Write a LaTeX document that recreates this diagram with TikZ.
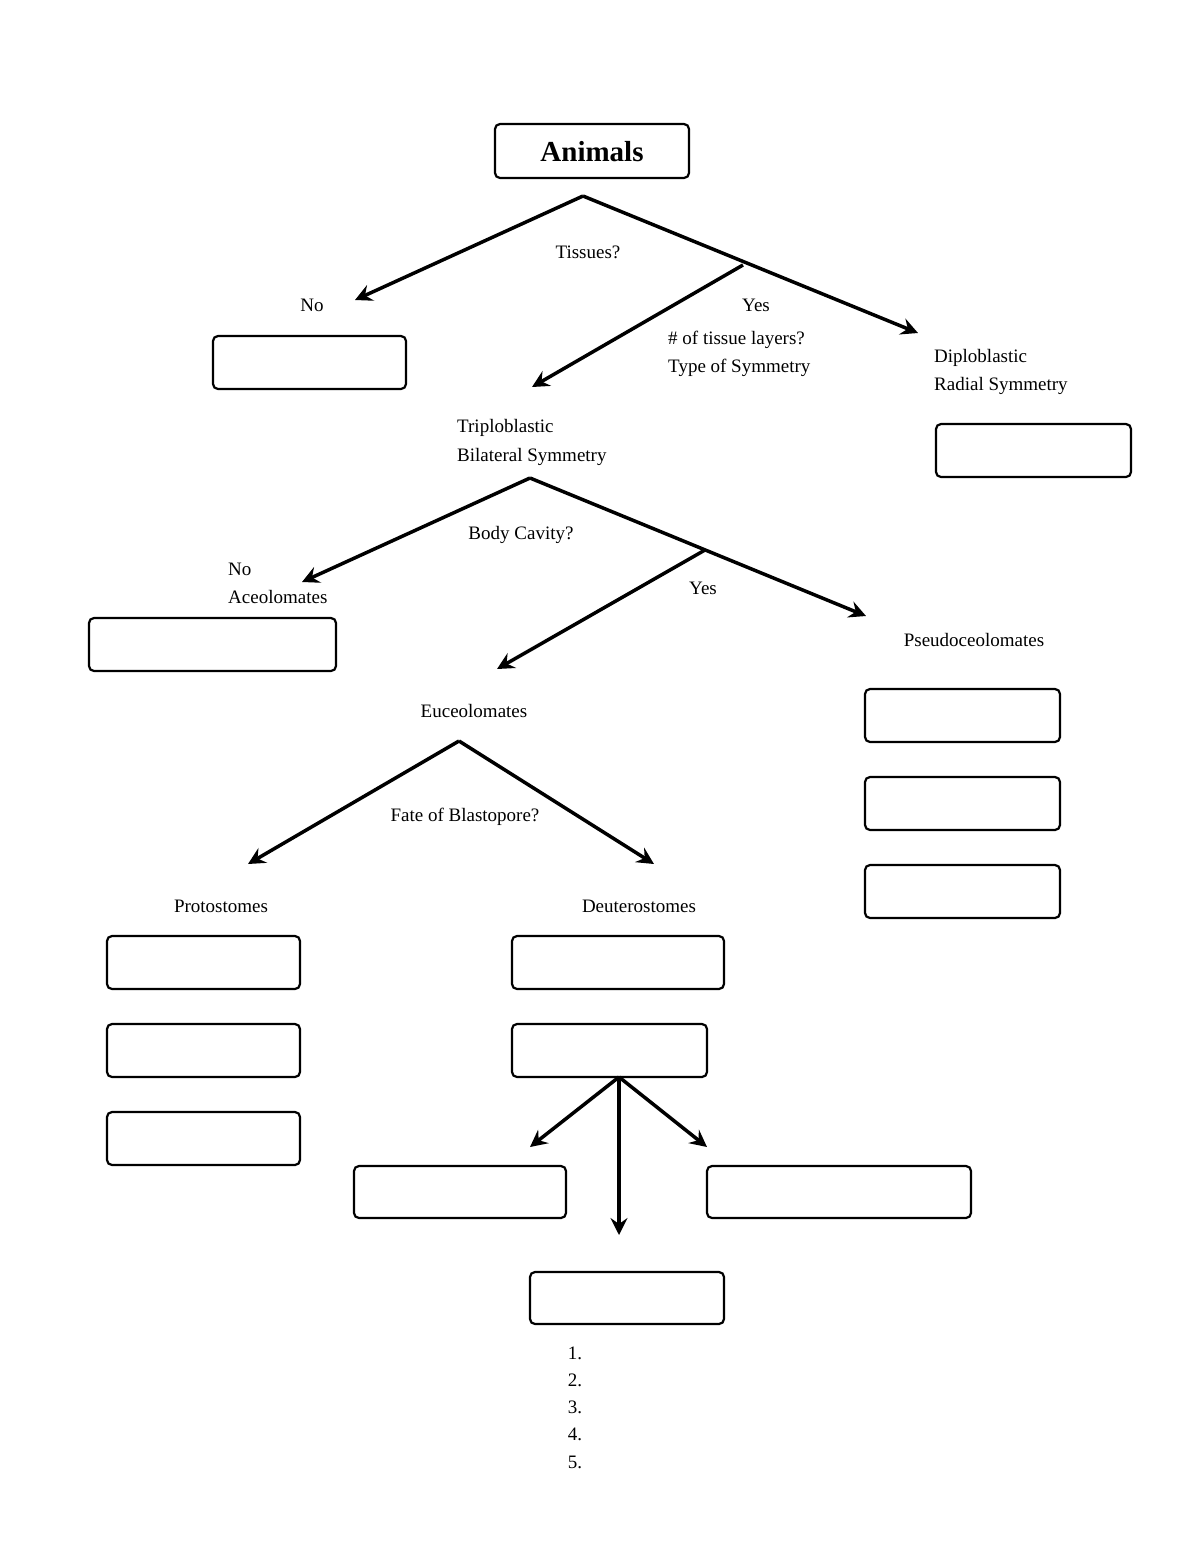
\documentclass[tikz,border=0pt]{standalone}
\usepackage{fontspec}
\setmainfont{Liberation Serif}
\usetikzlibrary{arrows.meta}
\begin{document}
\begin{tikzpicture}[x=1pt,y=-1pt,
  box/.style={draw,line width=2.2pt,rounded corners=5pt},
  arr/.style={line width=3.5pt,-{Stealth[length=17pt,width=17pt,inset=6pt]}},
  lbl/.style={font=\fontsize{19}{22}\selectfont,inner sep=0pt},
  lbll/.style={lbl,anchor=west}]
\useasboundingbox (0,0) rectangle (1200,1553);
% boxes
\draw[box] (495,124) rectangle (689,178);
\node[font=\fontsize{29}{32}\selectfont\bfseries] (animals) at (592,152) {Animals};
\draw[box] (213,336) rectangle (406,389);
\draw[box] (936,424) rectangle (1131,477);
\draw[box] (89,618) rectangle (336,671);
\draw[box] (865,689) rectangle (1060,742);
\draw[box] (865,777) rectangle (1060,830);
\draw[box] (865,865) rectangle (1060,918);
\draw[box] (107,936) rectangle (300,989);
\draw[box] (107,1024) rectangle (300,1077);
\draw[box] (107,1112) rectangle (300,1165);
\draw[box] (512,936) rectangle (724,989);
\draw[box] (512,1024) rectangle (707,1077);
\draw[box] (354,1166) rectangle (566,1218);
\draw[box] (707,1166) rectangle (971,1218);
\draw[box] (530,1272) rectangle (724,1324);
% coordinates
\coordinate (a0) at (583,196);
\coordinate (a1) at (355,300);
\coordinate (a2) at (918,333);
\coordinate (a3) at (743,265);
\coordinate (a4) at (532,387);
\coordinate (b0) at (530,478);
\coordinate (b1) at (302,582);
\coordinate (b2) at (866,616);
\coordinate (b3) at (705,550);
\coordinate (b4) at (497,669);
\coordinate (c0) at (459,741);
\coordinate (c1) at (248,864);
\coordinate (c2) at (654,864);
\coordinate (d0) at (619,1077);
\coordinate (d1) at (530,1147);
\coordinate (d2) at (707,1147);
\coordinate (d3) at (619,1235);
\draw[arr] (a0) -- (a1);
\draw[arr] (a0) -- (a2);
\draw[arr] (a3) -- (a4);
\draw[arr] (b0) -- (b1);
\draw[arr] (b0) -- (b2);
\draw[arr] (b3) -- (b4);
\draw[arr] (c0) -- (c1);
\draw[arr] (c0) -- (c2);
\draw[arr] (d0) -- (d1);
\draw[arr] (d0) -- (d2);
\draw[arr] (d0) -- (d3);
% labels
\node[lbl] (t1) at (588,252) {Tissues?};
\node[lbl] (t2) at (312,305) {No};
\node[lbl] (t3) at (756,305) {Yes};
\node[lbll] (t4) at (668,340) {\# of tissue layers?};
\node[lbll] (t5) at (668,368) {Type of Symmetry};
\node[lbll] (t6) at (934,358) {Diploblastic};
\node[lbll] (t7) at (934,386) {Radial Symmetry};
\node[lbll] (t8) at (457,428) {Triploblastic};
\node[lbll] (t9) at (457,457) {Bilateral Symmetry};
\node[lbl] (t10) at (521,535) {Body Cavity?};
\node[lbll] (t11) at (228,569) {No};
\node[lbll] (t12) at (228,597) {Aceolomates};
\node[lbl] (t13) at (703,588) {Yes};
\node[lbl] (t14) at (974,640) {Pseudoceolomates};
\node[lbl] (t15) at (474,711) {Euceolomates};
\node[lbl] (t16) at (465,817) {Fate of Blastopore?};
\node[lbl] (t17) at (221,906) {Protostomes};
\node[lbl] (t18) at (639,906) {Deuterostomes};
\foreach \i/\y in {1/1353,2/1380,3/1407,4/1434,5/1462}
  \node[lbl] (n\i) at (575,\y) {\i.};
\end{tikzpicture}
\end{document}
